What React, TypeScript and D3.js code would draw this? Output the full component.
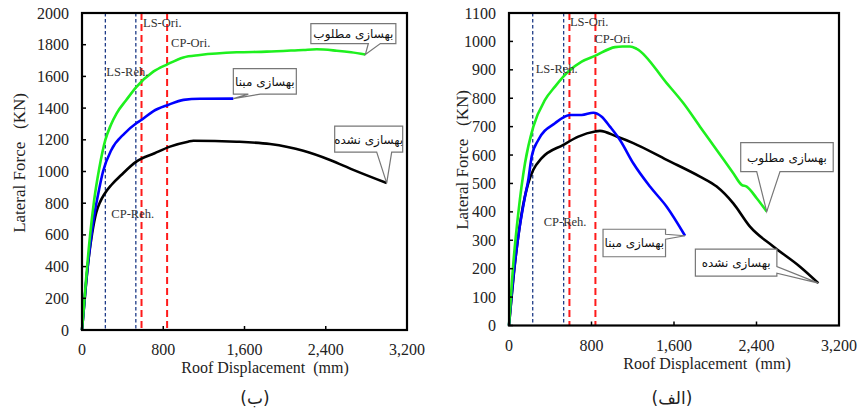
import React from "react";
import * as d3 from "d3";

type Pt = [number, number];

// ---- shared axis ticks ----
const xTicks = [0, 800, 1600, 2400, 3200];
const yTicksB = [0, 200, 400, 600, 800, 1000, 1200, 1400, 1600, 1800, 2000];
const yTicksA = [0, 100, 200, 300, 400, 500, 600, 700, 800, 900, 1000, 1100];

// ---- performance-level limits (roof displacement, mm) ----
const rehabLimits = [230, 530]; // LS-Reh. / CP-Reh. (navy)
const originalLimits = [586, 838]; // LS-Ori. / CP-Ori. (red)

// ---- panel (ب): pushover curves ----
const unretrofittedB: Pt[] = [
  [0, 0], [30, 220], [60, 420], [100, 610], [140, 740], [180, 810], [223, 860],
  [289, 915], [387, 978], [535, 1062], [715, 1115], [866, 1157], [1044, 1188],
  [1096, 1194], [1523, 1188], [1851, 1173], [2179, 1131], [2442, 1073],
  [2671, 1010], [3000, 927],
];
const baseRetrofitB: Pt[] = [
  [0, 0], [40, 300], [85, 560], [120, 720], [160, 860], [207, 1000], [289, 1136],
  [420, 1241], [535, 1304], [584, 1325], [700, 1380], [847, 1420], [1000, 1452],
  [1162, 1459], [1490, 1460],
];
const desiredRetrofitB: Pt[] = [
  [0, 0], [40, 320], [80, 600], [120, 820], [170, 1020], [230, 1199], [285, 1295],
  [341, 1367], [436, 1451], [532, 1531], [702, 1630], [840, 1676], [998, 1720],
  [1162, 1735], [1523, 1752], [1818, 1756], [2179, 1767], [2311, 1771],
  [2508, 1762], [2650, 1752], [2790, 1738],
];

// ---- panel (الف): pushover curves ----
const unretrofittedA: Pt[] = [
  [0, 0], [58, 219], [123, 395], [187, 501], [236, 548], [317, 589], [527, 636],
  [672, 665], [834, 683], [882, 685], [1044, 665], [1205, 642], [1529, 583],
  [1852, 524], [2014, 489], [2175, 430], [2337, 348], [2563, 278], [2822, 207],
  [3000, 149],
];
const baseRetrofitA: Pt[] = [
  [0, 0], [45, 180], [90, 313], [155, 454], [187, 512], [220, 595], [284, 653],
  [446, 712], [592, 741], [705, 741], [818, 749], [899, 735], [979, 700],
  [1076, 653], [1205, 571], [1367, 489], [1529, 418], [1707, 316],
];
const desiredRetrofitA: Pt[] = [
  [0, 0], [42, 219], [90, 395], [155, 571], [236, 700], [349, 794], [446, 841],
  [527, 876], [575, 894], [705, 929], [834, 949], [1028, 980], [1100, 982],
  [1173, 982], [1238, 974], [1529, 853], [1690, 783], [1852, 700], [2014, 618],
  [2175, 536], [2256, 495], [2305, 489], [2402, 448], [2499, 401],
];

const seriesNames = ["بهسازی نشده", "بهسازی مبنا", "بهسازی مطلوب"];
const seriesColors = ["#000000", "#0000ff", "#1ef01e"];

const SERIF = "'Liberation Serif', 'Times New Roman', serif";
const ARABIC = "'DejaVu Sans', sans-serif";

type Callout = {
  box: [number, number, number, number]; // x, y, w, h relative to tip
  side: "bottom" | "right";
  base: [number, number]; // positions along the side, relative to tip
};

type LimitLabel = { text: string; at: number; dx: number; y: number };

type PanelProps = {
  x0: number; x1: number; y0: number; y1: number;
  yMax: number; yTicks: number[];
  curves: Pt[][];
  callouts: Callout[];
  limitLabels: LimitLabel[];
  titleX: number; titleY: number;
  yTitleX: number; yTitleY: number;
  caption: string; captionX: number;
};

function calloutPath(tx: number, ty: number, c: Callout) {
  const bx0 = tx + c.box[0];
  const by0 = ty + c.box[1];
  const bx1 = bx0 + c.box[2];
  const by1 = by0 + c.box[3];
  if (c.side === "bottom") {
    const a = tx + c.base[0];
    const b = tx + c.base[1];
    return `M${bx0},${by0}L${bx1},${by0}L${bx1},${by1}L${b},${by1}L${tx},${ty}L${a},${by1}L${bx0},${by1}Z`;
  }
  const a = ty + c.base[0];
  const b = ty + c.base[1];
  return `M${bx0},${by0}L${bx1},${by0}L${bx1},${a}L${tx},${ty}L${bx1},${b}L${bx1},${by1}L${bx0},${by1}Z`;
}

function Panel(p: PanelProps) {
  const x = d3.scaleLinear().domain([0, 3200]).range([p.x0, p.x1]);
  const y = d3.scaleLinear().domain([0, p.yMax]).range([p.y1, p.y0]);
  const line = d3
    .line<Pt>()
    .x((d) => x(d[0]))
    .y((d) => y(d[1]))
    .curve(d3.curveMonotoneX);

  return (
    <g>
      {/* limit-state markers */}
      {rehabLimits.map((v, i) => (
        <line key={"n" + i} x1={x(v)} x2={x(v)} y1={p.y0} y2={p.y1}
          stroke="#1f3c88" strokeWidth={1.3} strokeDasharray="3.5,2.5" />
      ))}
      {originalLimits.map((v, i) => (
        <line key={"r" + i} x1={x(v)} x2={x(v)} y1={p.y0} y2={p.y1}
          stroke="#ff1a1a" strokeWidth={2} strokeDasharray="7,4" />
      ))}

      {/* pushover curves */}
      {p.curves.map((c, i) => (
        <path key={"c" + i} d={line(c) ?? ""} fill="none" stroke={seriesColors[i]}
          strokeWidth={2.6} strokeLinejoin="round" />
      ))}

      {p.limitLabels.map((l, i) => (
        <text key={"l" + i} x={x(l.at) + l.dx} y={y(l.y) + 4.5} fontFamily={SERIF}
          fontSize={12.5} fill="#333">{l.text}</text>
      ))}

      {/* callouts naming each curve at its last point */}
      {p.curves.map((c, i) => {
        const last = c[c.length - 1];
        const tx = x(last[0]);
        const ty = y(last[1]);
        const co = p.callouts[i];
        return (
          <g key={"co" + i}>
            <path d={calloutPath(tx, ty, co)} fill="#fff" stroke="#777" strokeWidth={1.2} />
            <text x={tx + co.box[0] + co.box[2] / 2} y={ty + co.box[1] + co.box[3] / 2 + 4.5}
              textAnchor="middle" fontFamily={ARABIC} fontSize={12} fill="#111"
              direction="rtl">{seriesNames[i]}</text>
          </g>
        );
      })}

      {/* ticks inside the frame */}
      {p.yTicks.map((t) => (
        <line key={"yt" + t} x1={p.x0} x2={p.x0 + 4} y1={y(t)} y2={y(t)} stroke="#000" strokeWidth={1.5} />
      ))}
      {xTicks.map((t) => (
        <line key={"xt" + t} x1={x(t)} x2={x(t)} y1={p.y1} y2={p.y1 - 4} stroke="#000" strokeWidth={1.5} />
      ))}
      <rect x={p.x0} y={p.y0} width={p.x1 - p.x0} height={p.y1 - p.y0} fill="none"
        stroke="#000" strokeWidth={2.2} />

      {p.yTicks.map((t) => (
        <text key={"yl" + t} x={p.x0 - 13} y={y(t) + 5.5} textAnchor="end"
          fontFamily={SERIF} fontSize={16} fill="#222">{t}</text>
      ))}
      {xTicks.map((t) => (
        <text key={"xl" + t} x={x(t)} y={p.y1 + 25} textAnchor="middle"
          fontFamily={SERIF} fontSize={16} fill="#222">{d3.format(",")(t)}</text>
      ))}

      <text x={p.titleX} y={p.titleY} textAnchor="middle" fontFamily={SERIF}
        fontSize={16} fill="#222" xmlSpace="preserve">{"Roof Displacement  (mm)"}</text>
      <text transform={`translate(${p.yTitleX},${p.yTitleY}) rotate(-90)`} textAnchor="middle"
        fontFamily={SERIF} fontSize={17} fill="#222" xmlSpace="preserve">
        {"Lateral Force   (KN)"}
      </text>
      <text x={p.captionX} y={404} textAnchor="middle" fontFamily={ARABIC} fontSize={17}
        fill="#222" direction="rtl">{p.caption}</text>
    </g>
  );
}

export default function App() {
  return (
    <div style={{ position: "absolute", left: 0, top: 0 }}>
      <svg width={859} height={412} style={{ display: "block", background: "#fff" }}>
        <Panel
          x0={82} x1={407} y0={13} y1={330}
          yMax={2000} yTicks={yTicksB}
          curves={[unretrofittedB, baseRetrofitB, desiredRetrofitB]}
          callouts={[
            { box: [-52, -57, 68, 26], side: "bottom", base: [-10, 5] },
            { box: [0, -30, 63, 25.5], side: "bottom", base: [15, 27] },
            { box: [-54.5, -31, 85, 20], side: "bottom", base: [3, 15] },
          ]}
          limitLabels={[
            { text: "LS-Ori.", at: originalLimits[0], dx: 1.5, y: 1937 },
            { text: "CP-Ori.", at: originalLimits[1], dx: 4, y: 1817 },
            { text: "LS-Reh.", at: rehabLimits[0], dx: 1, y: 1634 },
            { text: "CP-Reh.", at: rehabLimits[0], dx: 6, y: 732 },
          ]}
          titleX={265} titleY={373}
          yTitleX={25} yTitleY={163}
          caption="(ب)" captionX={255}
        />
        <Panel
          x0={509} x1={839} y0={13} y1={325.5}
          yMax={1100} yTicks={yTicksA}
          curves={[unretrofittedA, baseRetrofitA, desiredRetrofitA]}
          callouts={[
            { box: [-123, -34, 81.5, 27], side: "right", base: [-16.5, -10] },
            { box: [-82, -6.5, 62.5, 27.5], side: "right", base: [-1.5, 3.5] },
            { box: [-26, -69, 92.5, 29], side: "bottom", base: [-10, 13.3] },
          ]}
          limitLabels={[
            { text: "LS-Ori.", at: originalLimits[0], dx: 0.5, y: 1069 },
            { text: "CP-Ori.", at: originalLimits[1], dx: -1, y: 1009 },
            { text: "LS-Reh.", at: rehabLimits[0], dx: 3, y: 903 },
            { text: "CP-Reh.", at: rehabLimits[0], dx: 11, y: 365 },
          ]}
          titleX={707} titleY={369}
          yTitleX={468} yTitleY={160}
          caption="(الف)" captionX={672}
        />
      </svg>
    </div>
  );
}
